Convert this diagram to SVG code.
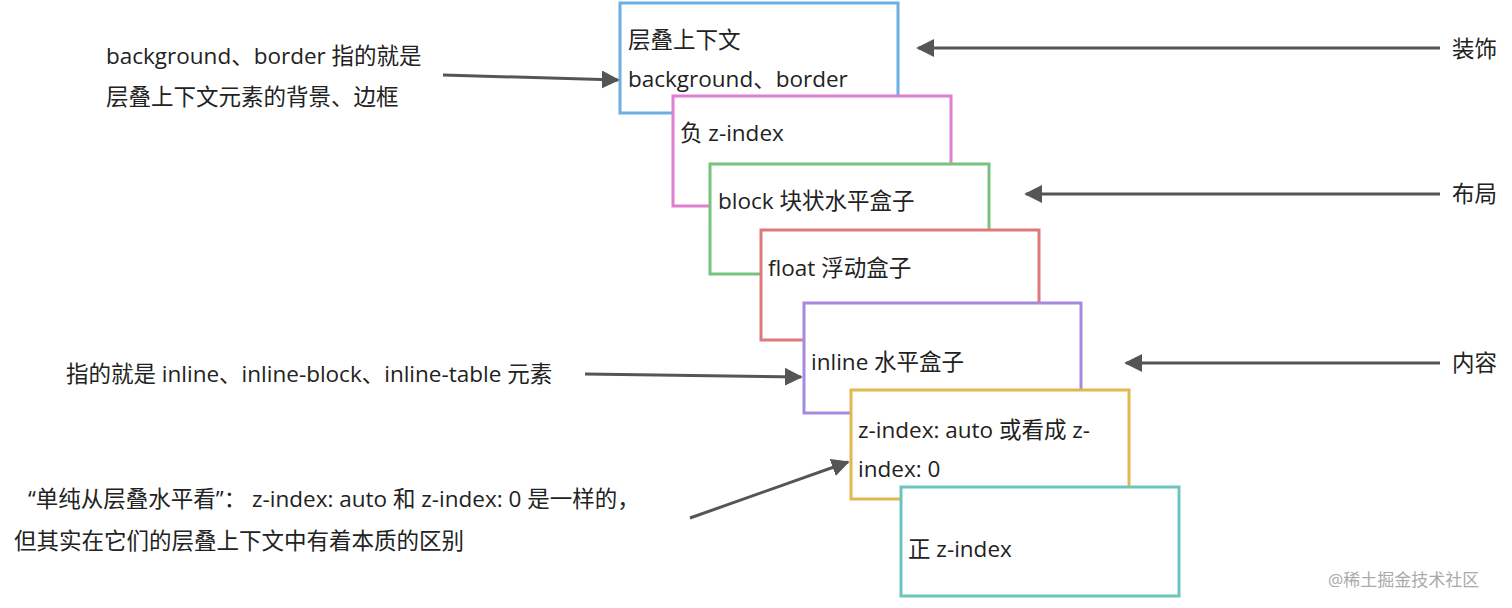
<svg xmlns="http://www.w3.org/2000/svg" width="1512" height="608" viewBox="0 0 1512 608">
<style>
text{font-family:"Open Sans","Noto Sans CJK SC",sans-serif;font-size:22.5px;fill:#222}
.b{fill:#fff;stroke-width:3}
.c{stroke:#555;stroke-width:3;fill:none;marker-end:url(#a)}
</style>
<defs><marker id="a" viewBox="0 0 10 10" refX="9" refY="5" markerWidth="6" markerHeight="6" orient="auto" markerUnits="strokeWidth"><path d="M0,0 L10,5 L0,10 Z" fill="#555"/></marker></defs>
<rect width="1512" height="608" fill="#fff"/>
<g id="n1"><rect class="b" x="620" y="3" width="278" height="110" stroke="#6bb0e0"/><text x="628" y="48">层叠上下文</text><text x="628" y="87">background、border</text></g>
<g id="n2"><rect class="b" x="673" y="96" width="278" height="110" stroke="#e07fcf"/><text x="680" y="141">负 z-index</text></g>
<g id="n3"><rect class="b" x="710" y="164" width="279" height="110" stroke="#77c27f"/><text x="718" y="209">block 块状水平盒子</text></g>
<g id="n4"><rect class="b" x="761" y="230" width="278" height="110" stroke="#e07a7a"/><text x="768" y="276">float 浮动盒子</text></g>
<g id="n5"><rect class="b" x="804" y="303" width="277" height="110" stroke="#a58ae0"/><text x="811" y="370">inline 水平盒子</text></g>
<g id="n6"><rect class="b" x="851" y="390" width="278" height="109" stroke="#e0b850"/><text x="858" y="438">z-index: auto 或看成 z-</text><text x="858" y="477">index: 0</text></g>
<g id="n7"><rect class="b" x="901" y="487" width="278" height="109" stroke="#6cc4c0"/><text x="908" y="557">正 z-index</text></g>
<g id="labels">
<text x="106" y="64">background、border 指的就是</text>
<text x="106" y="105">层叠上下文元素的背景、边框</text>
<text x="66" y="382">指的就是 inline、inline-block、inline-table 元素</text>
<text x="28" y="507">“单纯从层叠水平看”： z-index: auto 和 z-index: 0 是一样的，</text>
<text x="14" y="549">但其实在它们的层叠上下文中有着本质的区别</text>
<text x="1452" y="57">装饰</text>
<text x="1452" y="202">布局</text>
<text x="1452" y="371">内容</text>
<text x="1328" y="586" style="font-size:17px;fill:#aaa">@稀土掘金技术社区</text>
</g>
<g id="connectors">
<path class="c" d="M1440,48 H918"/>
<path class="c" d="M1440,194 H1026"/>
<path class="c" d="M1440,363 H1126"/>
<path class="c" d="M443,75 L618,80"/>
<path class="c" d="M585,374 L801,377"/>
<path class="c" d="M690,518 L848,462"/>
</g>
</svg>
